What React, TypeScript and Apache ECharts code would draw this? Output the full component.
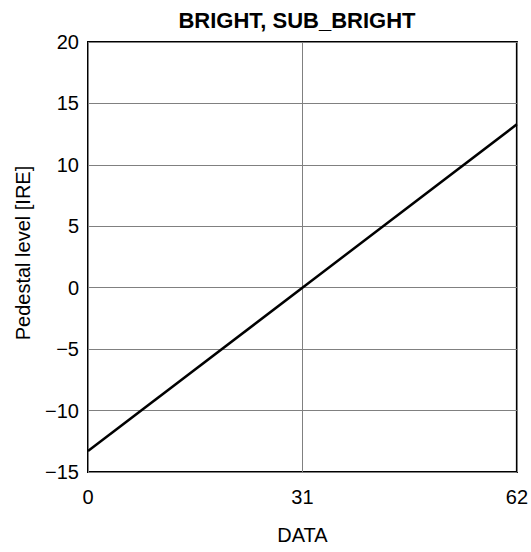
import React, { useEffect, useRef } from "react";
import * as echarts from "echarts";

const titleText = "BRIGHT, SUB_BRIGHT";
const xName = "DATA";
const yName = "Pedestal level [IRE]";
const xValues = [0, 62];
const yValues = [-13.3, 13.3];

export default function App() {
  const ref = useRef<HTMLDivElement>(null);
  useEffect(() => {
    document.body.style.margin = "0";
    const chart = echarts.init(ref.current!, undefined, { renderer: "svg" });
    const fmt = (v: number) => String(v).replace("-", "\u2212");
    const font = "Liberation Sans, Arial, sans-serif";
    chart.setOption({
      animation: false,
      backgroundColor: "#ffffff",
      title: {
        text: titleText,
        left: 292,
        textAlign: "center",
        top: 4,
        textStyle: { fontFamily: font, fontSize: 22, fontWeight: "bold", color: "#000" },
      },
      grid: {
        left: 88,
        right: 13,
        top: 42,
        bottom: 80,
        show: true,
        borderColor: "#000",
        borderWidth: 2,
        backgroundColor: "transparent",
      },
      xAxis: {
        type: "value",
        min: 0,
        max: 62,
        interval: 31,
        name: xName,
        nameLocation: "middle",
        nameGap: 53,
        nameTextStyle: { fontFamily: font, fontSize: 20, color: "#000" },
        axisLine: { show: false },
        axisTick: { show: false },
        axisLabel: { margin: 15, fontFamily: font, fontSize: 20, color: "#000", formatter: fmt },
        splitLine: { show: true, lineStyle: { color: "#808080", width: 1 } },
      },
      yAxis: {
        type: "value",
        min: -15,
        max: 20,
        interval: 5,
        name: yName,
        nameLocation: "middle",
        nameGap: 55,
        nameTextStyle: { fontFamily: font, fontSize: 20, color: "#000", padding: [0, 0, 0, 8] },
        axisLine: { show: false },
        axisTick: { show: false },
        axisLabel: { margin: 9, fontFamily: font, fontSize: 20, color: "#000", formatter: fmt },
        splitLine: { show: true, lineStyle: { color: "#808080", width: 1 } },
      },
      series: [
        {
          type: "line",
          data: xValues.map((x, i) => [x, yValues[i]]),
          showSymbol: false,
          symbol: "none",
          lineStyle: { color: "#000", width: 2.5 },
        },
      ],
    });
    return () => chart.dispose();
  }, []);
  return <div ref={ref} style={{ position: "absolute", left: 0, top: 0, width: 531, height: 552 }} />;
}
